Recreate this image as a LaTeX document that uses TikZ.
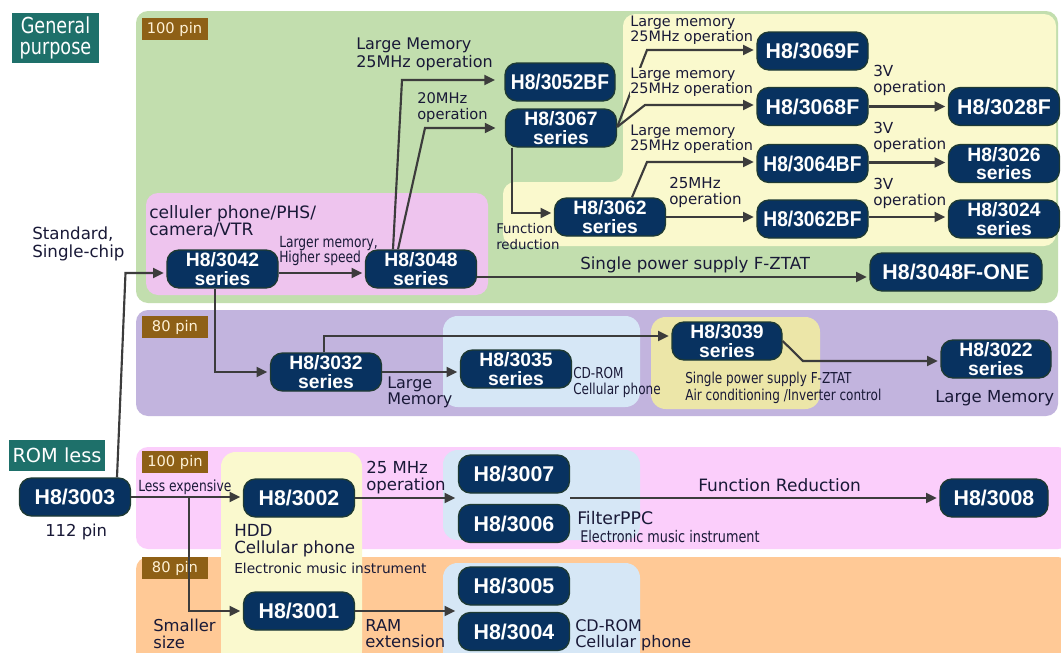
\documentclass[tikz,border=0pt]{standalone}
\usepackage{fontspec}
\usetikzlibrary{arrows.meta,calc}
\newfontfamily\labf{DejaVu Sans}
\newfontfamily\narf[FakeStretch=0.8]{DejaVu Sans}
\newfontfamily\chipf{Liberation Sans}
\newfontfamily\chipnf[FakeStretch=0.9]{Liberation Sans}
\newcommand\myfs[2]{\fontsize{#1}{#2}\selectfont}
\definecolor{greenbg}{RGB}{194,222,174}
\definecolor{yellowbg}{RGB}{250,249,205}
\definecolor{pinkA}{RGB}{238,196,238}
\definecolor{purplebg}{RGB}{194,180,222}
\definecolor{bluebg}{RGB}{214,231,246}
\definecolor{yellowB}{RGB}{236,230,168}
\definecolor{pinkB}{RGB}{251,206,251}
\definecolor{orangebg}{RGB}{255,201,150}
\definecolor{colyellow}{RGB}{250,249,206}
\definecolor{navy}{RGB}{8,50,96}
\definecolor{chipborder}{RGB}{30,58,52}
\definecolor{tealc}{RGB}{30,112,106}
\definecolor{brownc}{RGB}{142,96,22}
\definecolor{tagtext}{RGB}{255,242,215}
\definecolor{arrowcol}{RGB}{60,60,60}
\definecolor{textcol}{RGB}{25,25,55}
\begin{document}
\begin{tikzpicture}[x=0.75pt,y=-0.75pt,
  chip/.style={rectangle, rounded corners=9pt, fill=navy, draw=chipborder, line width=1pt,
    text=white, minimum width=83.25pt, minimum height=28.5pt, inner sep=1pt, align=center,
    font=\chipf\bfseries\myfs{16}{14}},
  chipbf/.style={chip, font=\chipnf\bfseries\myfs{16}{14}},
  chiptwo/.style={chip, font=\chipf\bfseries\myfs{14.5}{14}},
  arr/.style={draw=arrowcol, line width=1.6pt, -{Triangle[length=8pt,width=7.5pt]}, shorten >=2pt},
  lab/.style={inner sep=0pt, anchor=north west, align=left, text=textcol},
  pintag/.style={fill=brownc, text=tagtext, minimum width=49.5pt, minimum height=16.5pt,
    inner sep=0pt, font=\labf\myfs{11}{12}},
  grouptag/.style={fill=tealc, text=white, inner sep=0pt, align=center}]
\useasboundingbox (0,0) rectangle (1061,653);
\fill[white] (0,0) rectangle (1061,653);
% ---------- background regions ----------
\fill[greenbg, rounded corners=9pt] (136,11) rectangle (1058,303);
\fill[yellowbg, rounded corners=9pt] (623,14) -- (1056,14) -- (1056,246) -- (503,246) -- (503,182) -- (623,182) -- cycle;
\fill[pinkA, rounded corners=9pt] (146,193) rectangle (488,295);
\fill[purplebg, rounded corners=9pt] (136,310) rectangle (1058,416);
\fill[bluebg, rounded corners=11pt] (443,316) rectangle (640,407);
\fill[yellowB, rounded corners=11pt] (651,317) rectangle (820,409);
\fill[pinkB, rounded corners=9pt] (136,447) rectangle (1070,549);
\fill[orangebg, rounded corners=9pt] (136,557) rectangle (1070,665);
\fill[colyellow, rounded corners=11pt] (221,452) rectangle (362,665);
\fill[bluebg, rounded corners=11pt] (443,450) rectangle (640,540);
\fill[bluebg, rounded corners=11pt] (443,563) rectangle (640,665);
% ---------- tags ----------
\node[grouptag, minimum width=65.25pt, minimum height=37.5pt, font=\narf\myfs{16.5}{16}] (gp) at (55.5,38) {General\\purpose};
\node[grouptag, minimum width=72pt, minimum height=23.25pt, font=\labf\myfs{14.5}{15}] (rl) at (57,455.5) {ROM less};
\node[pintag] (p1) at (174.5,29) {100 pin};
\node[pintag] (p2) at (175,327) {80 pin};
\node[pintag] (p3) at (175,462) {100 pin};
\node[pintag] (p4) at (175,568) {80 pin};
% ---------- chips ----------
\node[chiptwo] (n3042) at (222.5,269) {H8/3042\\series};
\node[chiptwo] (n3048) at (421,269) {H8/3048\\series};
\node[chipbf, minimum width=82.5pt] (n3052) at (560,82) {H8/3052BF};
\node[chiptwo] (n3067) at (561,128) {H8/3067\\series};
\node[chiptwo] (n3062) at (610,217) {H8/3062\\series};
\node[chip] (n3069) at (812.5,51) {H8/3069F};
\node[chip] (n3068) at (812.5,106.5) {H8/3068F};
\node[chipbf] (n3064) at (812.5,163.5) {H8/3064BF};
\node[chipbf] (n3062bf) at (812.5,219) {H8/3062BF};
\node[chip] (n3028) at (1004,106.5) {H8/3028F};
\node[chiptwo] (n3026) at (1004,163.5) {H8/3026\\series};
\node[chiptwo] (n3024) at (1004,219) {H8/3024\\series};
\node[chip, minimum width=129pt] (n3048one) at (956,272) {H8/3048F-ONE};
\node[chiptwo] (n3032) at (326,372) {H8/3032\\series};
\node[chiptwo] (n3035) at (516,369) {H8/3035\\series};
\node[chiptwo, minimum width=82.5pt] (n3039) at (727,341) {H8/3039\\series};
\node[chiptwo, minimum width=82.5pt] (n3022) at (996,359) {H8/3022\\series};
\node[chip] (n3003) at (75,497) {H8/3003};
\node[chip] (n3002) at (299,498) {H8/3002};
\node[chip] (n3001) at (299,611) {H8/3001};
\node[chip] (n3007) at (514,474) {H8/3007};
\node[chip] (n3006) at (514,523.5) {H8/3006};
\node[chip] (n3005) at (514,586) {H8/3005};
\node[chip] (n3004) at (514,631.5) {H8/3004};
\node[chip, minimum width=81pt] (n3008) at (994,498) {H8/3008};
% ---------- bend coordinates ----------
\coordinate (c1) at (125.5,273);
\coordinate (c2) at (402,80);
\coordinate (c3) at (425,128);
\coordinate (c4) at (512,213);
\coordinate (c5) at (647,50);
\coordinate (c6) at (645,105);
\coordinate (c7) at (647,162);
\coordinate (c8) at (215,372);
\coordinate (c9) at (324,336);
\coordinate (c10) at (803,361);
\coordinate (c11) at (189,497);
\coordinate (c12) at ($(n3048.east)+(0,8)$);
% ---------- connectors ----------
\draw[arr] ($(n3003.north)+(42,0)$) -- (c1) -- (c1 -| n3042.west);
\draw[arr] ($(n3042.east)+(0,4)$) -- ($(n3048.west)+(0,4)$);
\draw[arr, shorten >=7pt] ($(n3048.north)+(-28,0)$) -- (c2) -- (c2 -| n3052.west);
\draw[arr, shorten >=7pt] ($(n3048.north)+(-23,0)$) -- (c3) -- (c3 -| n3067.west);
\draw[arr] ($(n3067.south)+(-49,0)$) -- (c4) -- (c4 -| n3062.west);
\draw[arr] ($(n3067.east)+(0,-1)$) -- (c5) -- (c5 -| n3069.west);
\draw[arr] ($(n3067.east)+(0,-1)$) -- (c6) -- (c6 -| n3068.west);
\draw[arr] ($(n3062.north)+(22,0)$) -- (c7) -- (c7 -| n3064.west);
\draw[arr] (n3062.east) -- (n3062.east -| n3062bf.west);
\draw[arr] (n3068.east) -- (n3068.east -| n3028.west);
\draw[arr] ($(n3064.east)+(0,-1)$) -- ($(n3026.west)+(0,-1)$);
\draw[arr] ($(n3062bf.east)+(0,-2)$) -- ($(n3024.west)+(0,-2)$);
\draw[arr] (c12) -- (c12 -| n3048one.west);
\draw[arr] ($(n3042.south)+(-7.5,0)$) -- (c8) -- (c8 -| n3032.west);
\draw[arr] (n3032.east) -- (n3032.east -| n3035.west);
\draw[arr] ($(n3032.north)+(-2,0)$) -- (c9) -- (c9 -| n3039.west);
\draw[arr] (n3039.east) -- (c10) -- (c10 -| n3022.west);
\draw[arr] (n3003.east) -- (n3003.east -| n3002.west);
\draw[arr] (c11) -- (c11 |- n3001.west) -- (n3001.west);
\draw[arr] (n3002.east) -- (n3002.east -| n3007.west);
\draw[arr] (n3001.east) -- (n3001.east -| n3004.west);
\draw[arr] (n3007.south east |- n3008.west) -- (n3008.west);
% ---------- labels ----------
\node[lab, font=\labf\myfs{12.5}{13.5}] (tStd) at (32,227) {Standard,\\Single-chip};
\node[lab, font=\labf\myfs{12.8}{13}] (tCel) at (149,205) {celluler phone/PHS/\\camera/VTR};
\node[lab, font=\narf\myfs{11.5}{11.5}] (tLrg) at (279,236) {Larger memory,\\Higher speed};
\node[lab, font=\labf\myfs{12}{13.5}] (tLM1) at (356,38) {Large Memory\\25MHz operation};
\node[lab, font=\labf\myfs{11}{12}] (t20) at (417,92) {20MHz\\operation};
\node[lab, font=\labf\myfs{10}{12}] (tFr) at (496,223) {Function\\reduction};
\node[lab, font=\labf\myfs{10.8}{11}] (tLm1) at (630,16) {Large memory\\25MHz operation};
\node[lab, font=\labf\myfs{10.8}{11}, fill=yellowbg] (tLm2) at (630,68) {Large memory\\25MHz operation};
\node[lab, font=\labf\myfs{10.8}{11}] (tLm3) at (630,125) {Large memory\\25MHz operation};
\node[lab, font=\labf\myfs{11.3}{12}] (t25a) at (669,177) {25MHz\\operation};
\node[lab, font=\labf\myfs{11.4}{12}] (t3V1) at (873,65) {3V\\operation};
\node[lab, font=\labf\myfs{11.4}{12}] (t3V2) at (873,122) {3V\\operation};
\node[lab, font=\labf\myfs{11.4}{12}] (t3V3) at (873,178) {3V\\operation};
\node[lab, font=\labf\myfs{12.5}{13}] (tSPS) at (580,257) {Single power supply F-ZTAT};
\node[lab, font=\labf\myfs{12}{12}] (tLM2) at (387,377) {Large\\Memory};
\node[lab, font=\narf\myfs{11.3}{12}] (tCD1) at (573,367) {CD-ROM\\Cellular phone};
\node[lab, font=\narf\myfs{11.3}{12.5}] (tSPS2) at (685,372) {Single power supply F-ZTAT\\Air conditioning /Inverter control};
\node[lab, font=\labf\myfs{12.4}{13}] (tLM3) at (935,390) {Large Memory};
\node[lab, font=\narf\myfs{11.5}{12}] (tLE) at (138,480) {Less expensive};
\node[lab, font=\labf\myfs{12.3}{13}] (t112) at (45,524) {112 pin};
\node[lab, font=\labf\myfs{12.4}{13}] (t25b) at (366,461) {25 MHz\\operation};
\node[lab, font=\labf\myfs{12.5}{13}] (tHDD) at (234,524) {HDD};
\node[lab, font=\labf\myfs{12.5}{13}] (tCP) at (234,541) {Cellular phone};
\node[lab, font=\labf\myfs{10.3}{12}] (tEMI) at (234,563) {Electronic music instrument};
\node[lab, font=\labf\myfs{13}{13}] (tFP) at (577,511) {FilterPPC};
\node[lab, font=\narf\myfs{12}{12}] (tEMI2) at (580,530) {Electronic music instrument};
\node[lab, font=\labf\myfs{12.75}{13}] (tFR) at (698,478) {Function Reduction};
\node[lab, font=\labf\myfs{12}{12.5}] (tCD2) at (575,619) {CD-ROM\\Cellular phone};
\node[lab, font=\labf\myfs{12.3}{12.5}] (tRAM) at (365,619) {RAM\\extension};
\node[lab, font=\labf\myfs{12.3}{12.5}] (tSm) at (153,619) {Smaller\\size};
\end{tikzpicture}
\end{document}
